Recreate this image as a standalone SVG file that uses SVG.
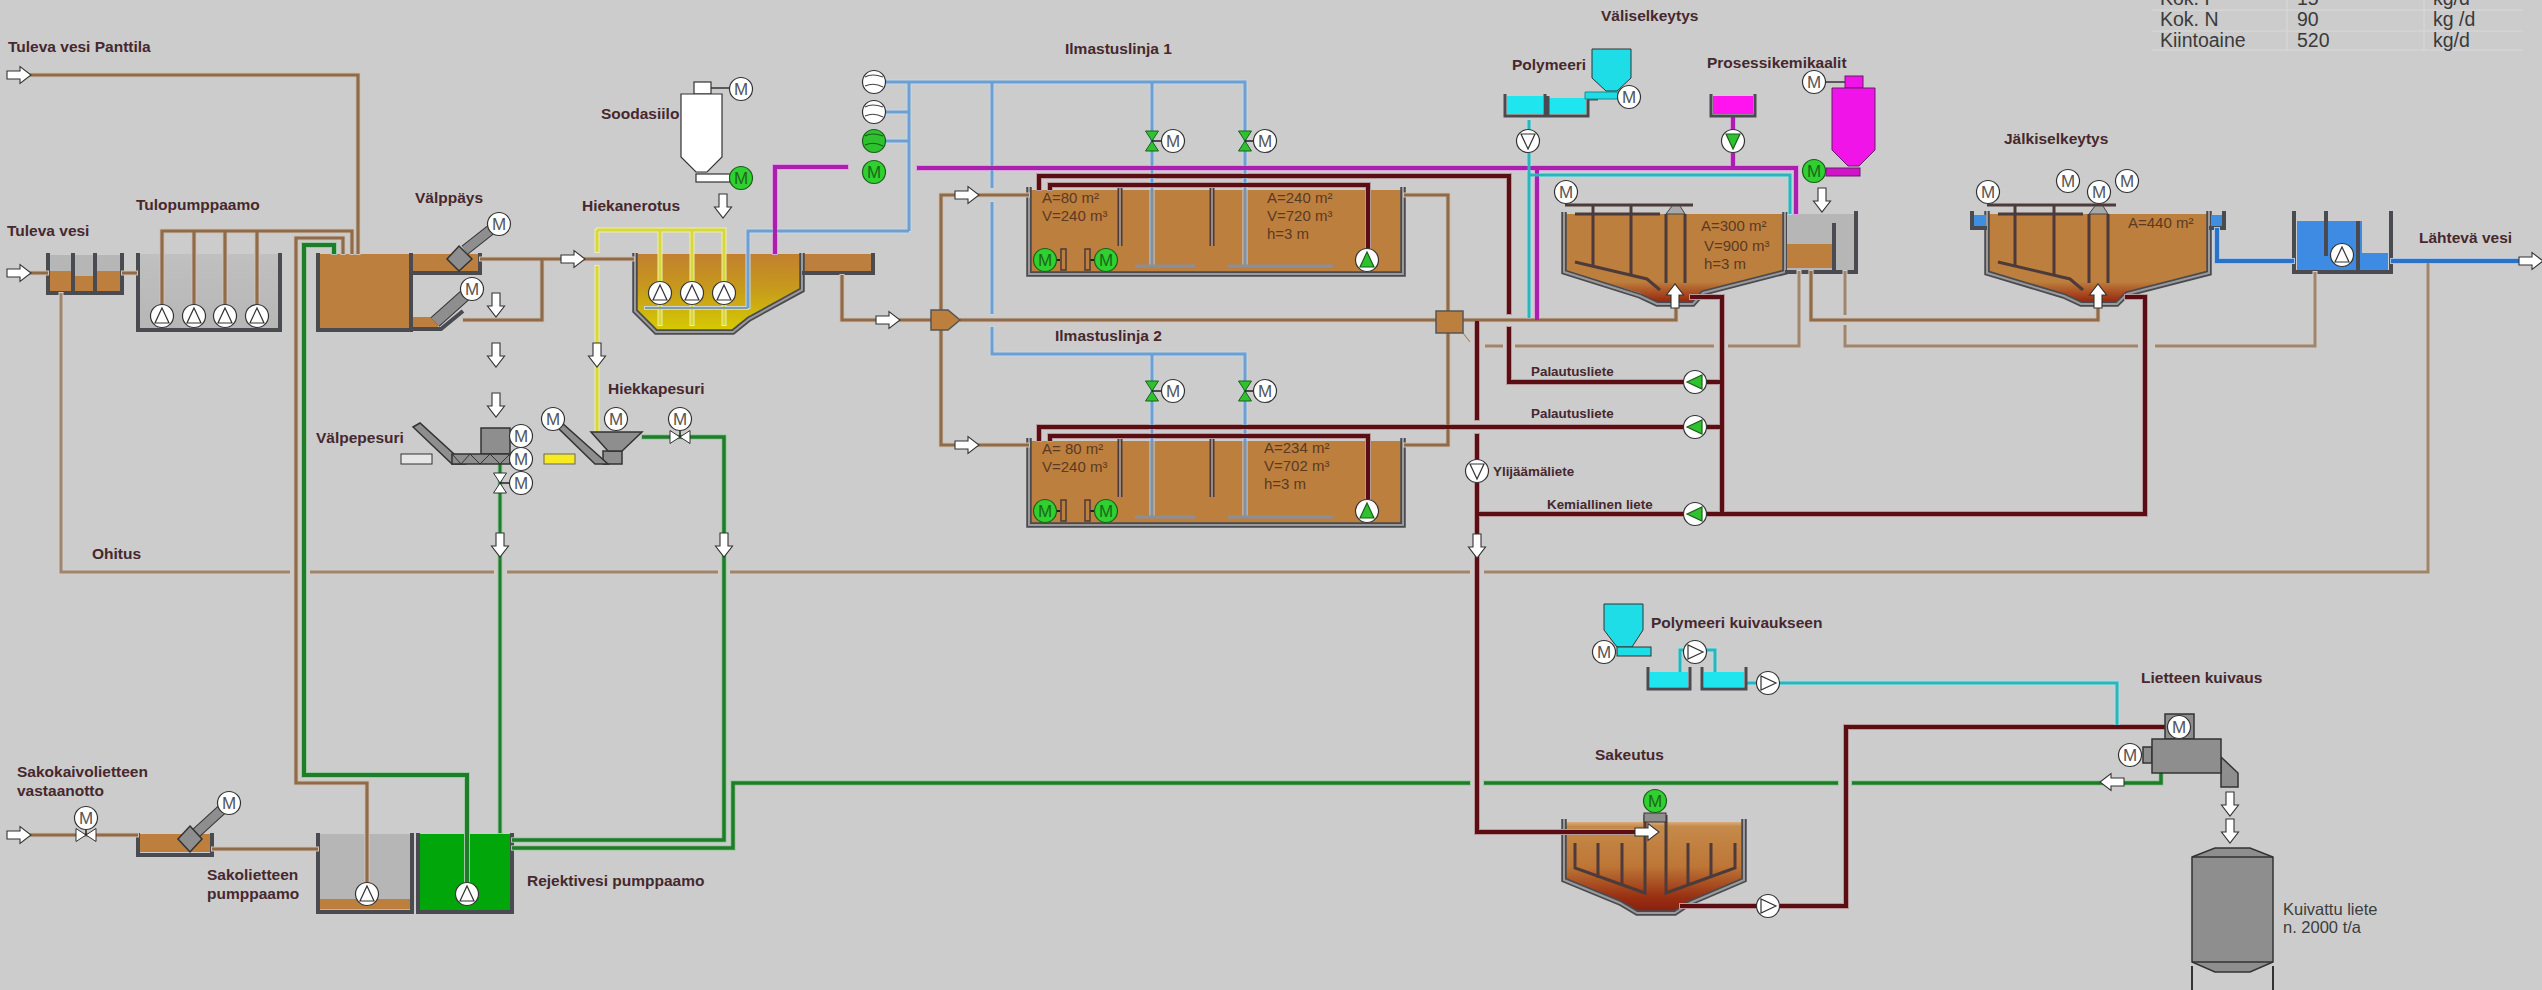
<svg xmlns="http://www.w3.org/2000/svg" width="2542" height="990" viewBox="0 0 2542 990">
<style>
text{font-family:"Liberation Sans",Arial,sans-serif;fill:#46282e}
.l{font-size:15.5px;font-weight:bold}
.s{font-size:13.4px;font-weight:bold}
.d{font-size:15px;fill:#5a3a24}
.n{font-size:16.5px;fill:#3d3d3d}
.t{font-size:19.5px;fill:#3a3a3a}
.grid{stroke:#d9d9d9;stroke-width:1;fill:none}
.wall{fill:none;stroke:#4a4b50;stroke-width:4;stroke-linejoin:miter}
.wt{fill:none;stroke:#4a4b50;stroke-width:5.5;stroke-linejoin:miter}
.wi{fill:none;stroke:#9a9a9a;stroke-width:2;stroke-linejoin:miter}
.rod{fill:none;stroke:#4d3b3b;stroke-width:5}
.roi{fill:none;stroke:#9a8a80;stroke-width:2}
.bro{fill:#bd7f3d}
.gry{fill:#b6b6b6}
.eq{fill:#8e8e8e;stroke:#333;stroke-width:1.5}
.pipe{fill:none;stroke-linejoin:miter}
.brown{stroke:#8f6b4a;stroke-width:3.2}
.tan{stroke:#9d8670;stroke-width:3}
.red{stroke:#5a0d13;stroke-width:4}
.mag{stroke:#ab1fae;stroke-width:4}
.blue{stroke:#6f9fce;stroke-width:3}
.dblue{stroke:#2a72c8;stroke-width:4}
.cyan{stroke:#2cb4bc;stroke-width:3}
.yel{stroke:#d8d83a;stroke-width:3}
.grn{stroke:#1e7d28;stroke-width:4}
.ing{fill:none;stroke:#8b9097;stroke-width:3}
.m circle{fill:#fff;stroke:#333;stroke-width:1.2}
.m text{font-size:17px;fill:#555;text-anchor:middle}
.mg circle{fill:#2fd02f;stroke:#1c5f1c;stroke-width:1.2}
.mg text{font-size:17px;fill:#1a6a1a;text-anchor:middle}
.sw{fill:#fff;stroke:#333;stroke-width:1.2}
.v{fill:#fff;stroke:#333;stroke-width:1}
.vg{fill:#2fc22f;stroke:#1c5f1c;stroke-width:1}
</style>
<defs>
<filter id="halo" filterUnits="userSpaceOnUse" x="0" y="0" width="2542" height="990" color-interpolation-filters="sRGB">
<feMorphology in="SourceGraphic" operator="dilate" radius="1.2" result="d"/>
<feColorMatrix in="d" type="matrix" values=".42 0 0 0 .58 0 .42 0 0 .58 0 0 .42 0 .58 0 0 0 1 0" result="h"/>
<feMerge><feMergeNode in="h"/><feMergeNode in="SourceGraphic"/></feMerge>
</filter>
<linearGradient id="grit" x1="0" y1="0" x2="0" y2="1"><stop offset="0" stop-color="#c2802f"/><stop offset=".45" stop-color="#c79a1c"/><stop offset="1" stop-color="#d6cc00"/></linearGradient>
<linearGradient id="clar" x1="0" y1="0" x2="0" y2="1"><stop offset="0" stop-color="#bd7f3d"/><stop offset=".76" stop-color="#bd7f3d"/><stop offset=".9" stop-color="#a8481f"/><stop offset="1" stop-color="#8e2410"/></linearGradient>
<linearGradient id="thick" x1="0" y1="0" x2="0" y2="1"><stop offset="0" stop-color="#d8ac7c"/><stop offset=".05" stop-color="#c58a4a"/><stop offset=".5" stop-color="#bd7636"/><stop offset=".85" stop-color="#982f12"/><stop offset="1" stop-color="#8a200e"/></linearGradient>
<linearGradient id="fade" x1="0" y1="0" x2="0" y2="1"><stop offset="0" stop-color="#c0c0c0"/><stop offset="1" stop-color="#b6b6b6"/></linearGradient>
<g id="pu"><circle r="11.5" class="sw"/><path d="M0-8 7 7H-7Z" fill="#fff" stroke="#333" stroke-width="1.2"/></g>
<g id="pg"><circle r="11.5" class="sw"/><path d="M0-8 7 7H-7Z" fill="#2fc22f" stroke="#1c5f1c" stroke-width="1.2"/></g>
<path id="ar" d="M0-4H13V-8.5L24 0 13 8.5V4H0Z" fill="#fff" stroke="#333" stroke-width="1.1"/>
<g id="bw"><circle r="11.5" class="sw"/><path d="M-9-5Q-2-9 9-5M-9 4Q0 0 9 5" fill="none" stroke="#444" stroke-width="1.1"/></g>
<g id="bg"><circle r="11.5" fill="#2fc22f" stroke="#1c5f1c" stroke-width="1.2"/><path d="M-9-5Q-2-9 9-5M-9 4Q0 0 9 5" fill="none" stroke="#1c5f1c" stroke-width="1.1"/></g>
<path id="val" d="M-10-6.5 0 0-10 6.5ZM10-6.5 0 0 10 6.5Z" class="v"/>
<path id="vag" d="M-10-6.5 0 0-10 6.5ZM10-6.5 0 0 10 6.5Z" class="vg"/>
</defs>
<rect width="2542" height="990" fill="#cccccc"/>

<g id="table">
<path class="grid" d="M2152 10H2523M2152 31H2523M2152 50H2523M2287 0V50M2424 0V50"/>
<text class="t" x="2160" y="5">Kok. P</text><text class="t" x="2297" y="5">15</text><text class="t" x="2433" y="5">kg/d</text>
<text class="t" x="2160" y="26">Kok. N</text><text class="t" x="2297" y="26">90</text><text class="t" x="2433" y="26">kg /d</text>
<text class="t" x="2160" y="47">Kiintoaine</text><text class="t" x="2297" y="47">520</text><text class="t" x="2433" y="47">kg/d</text>
</g>

<g id="tulokanava">
<rect x="49" y="255" width="72" height="36" class="gry"/>
<path class="bro" d="M50 271H73V276H95V271H120V291H50Z"/>
<path class="wall" d="M48 253V293H122V253M73 253V291M95 253V291"/>
</g>
<g id="tulopumppaamo">
<rect x="138" y="254" width="142" height="75" fill="url(#fade)"/>
<path class="wall" d="M138 253V330H280V253"/>
</g>
<g id="valppays-tank">
<rect x="318" y="254" width="92" height="75" class="bro"/>
<rect x="412" y="254" width="66" height="17" class="bro"/>
<rect x="412" y="317" width="26" height="10" class="bro"/>
<path class="wall" d="M318 253V330H411V253M412 273H480V253M412 329H441L463 311"/>
</g>
<g id="hiekanerotus-tank">
<path d="M636 254H802V290L748 319 732 331H656L636 311Z" fill="url(#grit)"/>
<rect x="802" y="254" width="71" height="17" class="bro"/>
<path class="wt" d="M635 253V311L656 332H733L749 319 802 290V253"/>
<path class="wi" d="M635 253V311L656 332H733L749 319 802 290V253"/>
<path class="wall" d="M802 273H873V253"/>
</g>
<g id="ilmastus-1">
<rect x="1030" y="190" width="372" height="83" class="bro"/>
<path class="wt" d="M1029 187V274H1403V187"/><path class="wi" d="M1029 187V274H1403V187"/>
<path class="rod" d="M1120 188V246M1212 188V246"/><path class="roi" d="M1120 188V246M1212 188V246"/>
<text class="d" x="1042" y="203">A=80 m²</text><text class="d" x="1042" y="221">V=240 m³</text>
<text class="d" x="1267" y="203">A=240 m²</text><text class="d" x="1267" y="221">V=720 m³</text><text class="d" x="1267" y="239">h=3 m</text>
</g>
<g id="ilmastus-2">
<rect x="1030" y="441" width="372" height="83" class="bro"/>
<path class="wt" d="M1029 438V525H1403V438"/><path class="wi" d="M1029 438V525H1403V438"/>
<path class="rod" d="M1120 439V497M1212 439V497"/><path class="roi" d="M1120 439V497M1212 439V497"/>
<text class="d" x="1042" y="454">A= 80 m²</text><text class="d" x="1042" y="472">V=240 m³</text>
<text class="d" x="1264" y="453">A=234 m²</text><text class="d" x="1264" y="471">V=702 m³</text><text class="d" x="1264" y="489">h=3 m</text>
</g>
<g id="valiselkeytys">
<path d="M1565 214H1785V271L1703 292 1693 303H1657L1640 293 1565 271Z" fill="url(#clar)"/>
<path class="wt" d="M1564 212V272L1640 296 1657 304H1693L1703 293 1785 272V212"/><path class="wi" d="M1564 212V272L1640 296 1657 304H1693L1703 293 1785 272V212"/>
<rect x="1787" y="214" width="68" height="56" class="gry"/>
<rect x="1787" y="244" width="47" height="24" class="bro"/>
<path class="wall" d="M1785 272H1856V211M1834 223V270"/>
</g>
<g id="jalkiselkeytys">
<path d="M1989 214H2209V272L2127 294 2117 303H2081L2064 294 1989 272Z" fill="url(#clar)"/>
<path class="wt" d="M1987 211V273L2064 296 2081 304H2117L2127 294 2209 273V211"/><path class="wi" d="M1987 211V273L2064 296 2081 304H2117L2127 294 2209 273V211"/>
<rect x="1973" y="215" width="13" height="11" fill="#3f8fe0"/><rect x="2211" y="215" width="13" height="11" fill="#3f8fe0"/>
<path class="wall" d="M1972 211V228H1987M2224 211V228H2209"/>
</g>
<g id="lahtoallas">
<path fill="#3d8be2" d="M2297 221H2362V253H2388V270H2297Z"/>
<path class="wall" d="M2294 211V272H2391V211M2326 211V256M2358 221V272"/>
</g>
<g id="sakoallas-1">
<rect x="140" y="834" width="70" height="18" class="bro"/>
<path class="wall" d="M138 833V855H212V833"/>
</g>
<g id="sakolietteen-pumppaamo">
<rect x="319" y="834" width="92" height="76" class="gry"/>
<rect x="319" y="899" width="92" height="10" class="bro"/>
<path class="wall" d="M318 833V912H412V833"/>
</g>
<g id="rejektivesi-pumppaamo">
<rect x="419" y="834" width="92" height="76" fill="#00a60a"/>
<path class="wall" d="M418 833V912H512V833"/>
</g>
<g id="sakeutus">
<path d="M1566 822H1742V880L1675 911H1637L1620 901 1566 880Z" fill="url(#thick)"/>
<path class="wt" d="M1564 819V880L1620 903 1637 913H1675L1690 903 1744 880V819"/><path class="wi" d="M1564 819V880L1620 903 1637 913H1675L1690 903 1744 880V819"/>
</g>

<g id="connectors" filter="url(#halo)">
<path class="pipe tan" d="M61 293V572H290M310 572H494M507 572H718M730 572H1470M1484 572H2428V262"/>
<path class="pipe tan" d="M1485 346H1503M1515 346H1714M1728 346H1799V271M1845 271V315M1845 325V346H2138M2155 346H2315V272"/>
<path class="pipe brown" d="M30 75H358V254M30 273H48M122 273H137"/>
<path class="pipe brown" d="M352 254V231H162V316M194 231V316M225 231V316M257 231V316"/>
<path class="pipe brown" d="M343 254V238H296V783H367V893"/>
<path class="pipe grn" d="M334 254V245H304V775H467V893"/>
<path class="pipe brown" d="M480 259H634M542 259V320H463"/>
<path class="pipe brown" d="M842 275V320H931M960 320H1436M1463 320H1676V300"/>
<path class="pipe brown" d="M941 310V195H1029M941 330V445H1029M1404 195H1448V311M1404 445H1448V333"/>
<path class="pipe brown" d="M1811 271V320H2098V300M30 835H138M212 849H318"/>
<path class="pipe tan" style="stroke-width:1.2" d="M1463 333 1470 342"/>
<path class="pipe yel" d="M597 230H724V325M660 230V325M692 230V325M597 230V252M597 266V432"/>
<path class="pipe" stroke="#7f9aa8" stroke-width="2" d="M645 308H748"/>
<path class="pipe blue" d="M748 308V231H909M909 231V82H885M909 82H1245V266M1152 82V266M885 112H909M885 141H909"/>
<path class="pipe blue" d="M992 82V188M992 202V314M992 327V354H1245V516M1152 354V516"/>
<path class="pipe mag" d="M775 254V167H848M917 168H1796V214M1537 168V320M1733 116V168"/>
<path class="pipe cyan" d="M1529 120V318M1529 175H1790V214"/>
<path class="pipe cyan" d="M1680 672V650H1715V672M1746 683H2117V727"/>
<path class="pipe red" d="M1368 260V185H1050V190M1039 190V176H1509V314M1509 327V382H1690"/>
<path class="pipe red" d="M1368 511V436H1050V441M1039 441V427H1690"/>
<path class="pipe red" d="M1477 321V420M1477 434V832H1637M1477 514H1690"/>
<path class="pipe red" d="M1690 297H1722V514M1700 382H1722M1700 427H1722M1700 514H2145V297H2125"/>
<path class="pipe red" d="M1680 906H1846V727H2165"/>
<path class="pipe grn" style="stroke-width:3" d="M500 464V833"/>
<path class="pipe grn" style="stroke-width:3.5" d="M512 840H724V437H642M512 848H733V783H1470M1484 783H1838M1852 783H2161V773"/>
<path class="pipe dblue" d="M2217 228V261H2294M2391 261H2520"/>
</g>

<g id="ilmastimet-1">
<path class="ing" d="M1152 190V266M1245 190V266M1135 266H1195M1228 266H1333"/>
</g>
<g id="ilmastimet-2">
<path class="ing" d="M1152 441V516M1245 441V516M1135 517H1195M1228 517H1333"/>
</g>
<g id="sekoittimet-1">
<path d="M1057 260H1060M1088 260H1094" stroke="#222" stroke-width="2"/>
<rect x="1061" y="249" width="5" height="21" fill="#bd7f3d" stroke="#4a3a3a" stroke-width="1.5"/><rect x="1085" y="249" width="5" height="21" fill="#bd7f3d" stroke="#4a3a3a" stroke-width="1.5"/>
<g class="mg" transform="translate(1045 260)"><circle r="11.5"/><text y="6">M</text></g>
<g class="mg" transform="translate(1106 260)"><circle r="11.5"/><text y="6">M</text></g>
</g>
<g id="sekoittimet-2">
<path d="M1057 511H1060M1088 511H1094" stroke="#222" stroke-width="2"/>
<rect x="1061" y="500" width="5" height="21" fill="#bd7f3d" stroke="#4a3a3a" stroke-width="1.5"/><rect x="1085" y="500" width="5" height="21" fill="#bd7f3d" stroke="#4a3a3a" stroke-width="1.5"/>
<g class="mg" transform="translate(1045 511)"><circle r="11.5"/><text y="6">M</text></g>
<g class="mg" transform="translate(1106 511)"><circle r="11.5"/><text y="6">M</text></g>
</g>

<g id="bridge-1">
<path class="rod" style="stroke-width:3" d="M1565 205H1693M1575 214H1660M1593 205V265M1631 205V276M1666 214V283M1685 214V283"/>
<path fill="#a8a8a8" stroke="#444" d="M1666 214 1672 206H1680L1685 214Z"/>
<path class="rod" style="stroke-width:3" d="M1575 262 1647 279 1660 290"/>
<use href="#ar" transform="translate(1675 308) rotate(-90)"/>
<text class="d" x="1701" y="231">A=300 m²</text><text class="d" x="1704" y="251">V=900 m³</text><text class="d" x="1704" y="269">h=3 m</text>
<g class="m" transform="translate(1566 192)"><circle r="11.5"/><text y="6">M</text></g>
</g>
<g id="bridge-2">
<path class="rod" style="stroke-width:3" d="M1987 205H2116M1998 214H2083M2015 205V265M2054 205V276M2089 214V283M2108 214V283"/>
<path fill="#a8a8a8" stroke="#444" d="M2089 214 2095 206H2103L2108 214Z"/>
<path class="rod" style="stroke-width:3" d="M1998 262 2070 279 2083 290"/>
<use href="#ar" transform="translate(2098 308) rotate(-90)"/>
<text class="d" x="2128" y="228">A=440 m²</text>
<g class="m" transform="translate(1988 192)"><circle r="11.5"/><text y="6">M</text></g>
<g class="m" transform="translate(2068 181)"><circle r="11.5"/><text y="6">M</text></g>
<g class="m" transform="translate(2099 192)"><circle r="11.5"/><text y="6">M</text></g>
<g class="m" transform="translate(2127 181)"><circle r="11.5"/><text y="6">M</text></g>
</g>
<g id="sakeutin-rakenne">
<path class="rod" style="stroke-width:3" d="M1575 843V868L1645 893V815M1598 843V878M1622 843V886M1666 815V893L1735 868V843M1688 843V886M1711 843V878"/>
<rect x="1644" y="813" width="22" height="9" fill="#8e8e8e" stroke="#333"/>
<g class="mg" transform="translate(1655 801)"><circle r="11.5"/><text y="6">M</text></g>
<use href="#ar" transform="translate(1635 832)"/>
</g>

<g id="tulopumput"><use href="#pu" x="162" y="316"/><use href="#pu" x="194" y="316"/><use href="#pu" x="225" y="316"/><use href="#pu" x="257" y="316"/></g>
<g id="valpat">
<path d="M465 250 498 224" stroke="#333" stroke-width="11"/><path d="M465 250 498 224" stroke="#8e8e8e" stroke-width="9"/>
<path class="eq" d="M459 246 472 259 459 271 447 259Z"/>
<path d="M435 322 472 289" stroke="#333" stroke-width="13"/><path d="M435 322 472 289" stroke="#8e8e8e" stroke-width="11"/>
<g class="m" transform="translate(499 224)"><circle r="11.5"/><text y="6">M</text></g>
<g class="m" transform="translate(472 289)"><circle r="11.5"/><text y="6">M</text></g>
</g>
<g id="soodasiilo">
<path d="M711 88H730" stroke="#333" stroke-width="1.5"/>
<rect x="694" y="82" width="17" height="12" class="sw"/>
<path class="sw" d="M681 94H722V157L707 172H696L681 157Z"/>
<rect x="696" y="174" width="34" height="8" class="sw"/>
<g class="m" transform="translate(741 89)"><circle r="11.5"/><text y="6">M</text></g>
<g class="mg" transform="translate(741 178)"><circle r="11.5"/><text y="6">M</text></g>
</g>
<g id="hiekkapumput"><use href="#pu" x="660" y="293"/><use href="#pu" x="692" y="293"/><use href="#pu" x="724" y="293"/></g>
<g id="puhaltimet">
<use href="#bw" x="874" y="82"/><use href="#bw" x="874" y="112"/><use href="#bg" x="874" y="141"/>
<g class="mg" transform="translate(874 172)"><circle r="11.5"/><text y="6">M</text></g>
</g>
<g id="venttiilit-1">
<use href="#vag" transform="translate(1152 141) rotate(90)"/><use href="#vag" transform="translate(1245 141) rotate(90)"/>
<path d="M1152 141H1163M1245 141H1255" stroke="#222" stroke-width="1.5"/>
<g class="m" transform="translate(1173 141)"><circle r="11.5"/><text y="6">M</text></g>
<g class="m" transform="translate(1265 141)"><circle r="11.5"/><text y="6">M</text></g>
</g>
<g id="venttiilit-2">
<use href="#vag" transform="translate(1152 391) rotate(90)"/><use href="#vag" transform="translate(1245 391) rotate(90)"/>
<path d="M1152 391H1163M1245 391H1255" stroke="#222" stroke-width="1.5"/>
<g class="m" transform="translate(1173 391)"><circle r="11.5"/><text y="6">M</text></g>
<g class="m" transform="translate(1265 391)"><circle r="11.5"/><text y="6">M</text></g>
</g>
<g id="kiertopumput"><use href="#pg" x="1367" y="260"/><use href="#pg" x="1367" y="511"/></g>
<g id="jakokaivo"><path class="bro" stroke="#555" stroke-width="1.5" d="M931 310H948L960 320 948 330H931Z"/></g>
<g id="kokoojakaivo"><rect x="1436" y="311" width="27" height="22" class="bro" stroke="#555" stroke-width="1.5"/></g>
<g id="polymeeri">
<path d="M1507 96H1543V114H1507ZM1549 98H1586V114H1549Z" fill="#1fe6ee"/>
<path class="wall" style="stroke-width:3" d="M1505 94V116H1545V94M1548 96V116H1588V99H1598"/>
<path fill="#1fdde6" stroke="#1a8a90" d="M1585 92H1618V99H1585Z"/>
<path fill="#1fdde6" stroke="#333" d="M1592 49H1631V78L1617 91H1606L1592 78Z"/>
<g class="m" transform="translate(1629 97)"><circle r="11.5"/><text y="6">M</text></g>
<g transform="translate(1528 141)"><use href="#pu" transform="rotate(180)"/></g>
</g>
<g id="prosessikemikaalit">
<rect x="1713" y="96" width="40" height="18" fill="#ff14f0"/>
<path class="wall" style="stroke-width:3" d="M1711 94V116H1755V94"/>
<g transform="translate(1733 141)"><use href="#pg" transform="rotate(180)"/></g>
<path d="M1825 82H1845" stroke="#333" stroke-width="1.5"/>
<rect x="1845" y="76" width="18" height="12" fill="#f014e8" stroke="#6a1a6a"/>
<path fill="#f014e8" stroke="#6a1a6a" d="M1832 88H1875V150L1859 166H1848L1832 150Z"/>
<rect x="1826" y="168" width="34" height="8" fill="#d015c8" stroke="#6a1a6a"/>
<g class="m" transform="translate(1814 82)"><circle r="11.5"/><text y="6">M</text></g>
<g class="mg" transform="translate(1814 171)"><circle r="11.5"/><text y="6">M</text></g>
</g>
<g id="valiselk-pumput">
<g transform="translate(1695 382)"><use href="#pg" transform="rotate(-90)"/></g>
<g transform="translate(1695 427)"><use href="#pg" transform="rotate(-90)"/></g>
<g transform="translate(1695 514)"><use href="#pg" transform="rotate(-90)"/></g>
<g transform="translate(1477 471)"><use href="#pu" transform="rotate(180)"/></g>
</g>
<g id="lahtopumppu"><use href="#pu" x="2342" y="255"/></g>
<g id="valpepesuri">
<path class="eq" d="M413 427 420 423 465 464H452Z"/>
<rect x="481" y="428" width="29" height="26" class="eq"/>
<rect x="452" y="454" width="58" height="10" class="eq"/>
<path d="M452 454 461 464 470 454 480 464 490 454 500 464 510 454" fill="none" stroke="#333" stroke-width="1"/>
<rect x="401" y="454" width="31" height="10" fill="#e6e6e6" stroke="#333"/>
<rect x="544" y="454" width="31" height="10" fill="#f8ea20" stroke="#666"/>
<use href="#val" transform="translate(500 483) rotate(90)"/>
<path d="M500 483H510" stroke="#222" stroke-width="1.5"/>
<g class="m" transform="translate(521 436)"><circle r="11.5"/><text y="6">M</text></g>
<g class="m" transform="translate(521 459)"><circle r="11.5"/><text y="6">M</text></g>
<g class="m" transform="translate(521 483)"><circle r="11.5"/><text y="6">M</text></g>
</g>
<g id="hiekkapesuri">
<rect x="603" y="451" width="19" height="13" class="eq"/>
<path class="eq" d="M557 427 562 423 608 464H595Z"/>
<path class="eq" d="M591 432H642L622 451H608Z"/>
<use href="#val" x="680" y="437"/>
<path d="M680 431V437" stroke="#222" stroke-width="1.5"/>
<g class="m" transform="translate(553 419)"><circle r="11.5"/><text y="6">M</text></g>
<g class="m" transform="translate(616 419)"><circle r="11.5"/><text y="6">M</text></g>
<g class="m" transform="translate(680 419)"><circle r="11.5"/><text y="6">M</text></g>
</g>
<g id="sakolaitteet">
<use href="#val" x="86" y="835"/>
<path d="M86 829V835" stroke="#222" stroke-width="1.5"/>
<path d="M195 834 229 803" stroke="#333" stroke-width="11"/><path d="M195 834 229 803" stroke="#8e8e8e" stroke-width="9"/>
<path class="eq" d="M190 826 202 839 190 852 178 839Z"/>
<g class="m" transform="translate(86 818)"><circle r="11.5"/><text y="6">M</text></g>
<g class="m" transform="translate(229 803)"><circle r="11.5"/><text y="6">M</text></g>
<use href="#pu" x="367" y="894"/><use href="#pu" x="467" y="894"/>
</g>
<g id="polymeeri-kuivaukseen">
<path d="M1650 672H1688V687H1650ZM1704 672H1744V687H1704Z" fill="#1fe6ee"/>
<path class="wall" style="stroke-width:3" d="M1648 667V689H1690V667M1702 667V689H1746V667"/>
<path fill="#1fdde6" stroke="#333" d="M1604 604H1643V630L1632 647H1617L1604 630Z"/>
<rect x="1617" y="647" width="34" height="9" fill="#1fdde6" stroke="#333"/>
<g class="m" transform="translate(1604 652)"><circle r="11.5"/><text y="6">M</text></g>
<g transform="translate(1695 652)"><use href="#pu" transform="rotate(90)"/></g>
<g transform="translate(1768 683)"><use href="#pu" transform="rotate(90)"/></g>
<g transform="translate(1768 906)"><use href="#pu" transform="rotate(90)"/></g>
</g>
<g id="lietteen-kuivaus">
<rect x="2165" y="714" width="29" height="25" class="eq"/>
<rect x="2143" y="747" width="9" height="16" class="eq"/>
<path class="eq" d="M2221 757 2238 773V787H2221Z"/>
<rect x="2152" y="739" width="69" height="34" class="eq"/>
<g class="m" transform="translate(2179 727)"><circle r="11.5"/><text y="6">M</text></g>
<g class="m" transform="translate(2130 755)"><circle r="11.5"/><text y="6">M</text></g>
</g>
<g id="lietesiilo">
<path class="eq" d="M2192 857 2215 848H2250L2273 857V962L2250 972H2215L2192 962Z"/>
<path fill="none" stroke="#333" stroke-width="1.5" d="M2192 857H2273M2192 962H2273"/>
<path fill="none" stroke="#333" stroke-width="2" d="M2192 966V990M2273 966V990"/>
<text class="n" x="2283" y="915">Kuivattu liete</text><text class="n" x="2283" y="933">n. 2000 t/a</text>
</g>
<g id="nuolet">
<use href="#ar" x="7" y="75"/><use href="#ar" x="7" y="273"/><use href="#ar" x="7" y="835"/>
<use href="#ar" x="561" y="259"/><use href="#ar" x="876" y="320"/><use href="#ar" x="955" y="195"/><use href="#ar" x="955" y="445"/>
<use href="#ar" transform="translate(2519 261)"/>
<use href="#ar" transform="translate(723 194) rotate(90)"/>
<use href="#ar" transform="translate(496 293) rotate(90)"/>
<use href="#ar" transform="translate(496 343) rotate(90)"/>
<use href="#ar" transform="translate(496 393) rotate(90)"/>
<use href="#ar" transform="translate(597 343) rotate(90)"/>
<use href="#ar" transform="translate(500 533) rotate(90)"/>
<use href="#ar" transform="translate(724 533) rotate(90)"/>
<use href="#ar" transform="translate(1822 188) rotate(90)"/>
<use href="#ar" transform="translate(1477 534) rotate(90)"/>
<use href="#ar" transform="translate(2124 782) rotate(180)"/>
<use href="#ar" transform="translate(2230 792) rotate(90)"/>
<use href="#ar" transform="translate(2230 819) rotate(90)"/>
</g>
<g id="labels">
<text class="l" x="8" y="52">Tuleva vesi Panttila</text>
<text class="l" x="7" y="236">Tuleva vesi</text>
<text class="l" x="136" y="210">Tulopumppaamo</text>
<text class="l" x="415" y="203">Välppäys</text>
<text class="l" x="582" y="211">Hiekanerotus</text>
<text class="l" x="601" y="119">Soodasiilo</text>
<text class="l" x="608" y="394">Hiekkapesuri</text>
<text class="l" x="316" y="443">Välpepesuri</text>
<text class="l" x="92" y="559">Ohitus</text>
<text class="l" x="1065" y="54">Ilmastuslinja 1</text>
<text class="l" x="1055" y="341">Ilmastuslinja 2</text>
<text class="l" x="1601" y="21">Väliselkeytys</text>
<text class="l" x="1512" y="70">Polymeeri</text>
<text class="l" x="1707" y="68">Prosessikemikaalit</text>
<text class="l" x="2004" y="144">Jälkiselkeytys</text>
<text class="l" x="2419" y="243">Lähtevä vesi</text>
<text class="s" x="1531" y="376">Palautusliete</text>
<text class="s" x="1531" y="418">Palautusliete</text>
<text class="s" x="1493" y="476">Ylijäämäliete</text>
<text class="s" x="1547" y="509">Kemiallinen liete</text>
<text class="l" x="1651" y="628">Polymeeri kuivaukseen</text>
<text class="l" x="2141" y="683">Lietteen kuivaus</text>
<text class="l" x="1595" y="760">Sakeutus</text>
<text class="l" x="17" y="777">Sakokaivolietteen</text>
<text class="l" x="17" y="796">vastaanotto</text>
<text class="l" x="207" y="880">Sakolietteen</text>
<text class="l" x="207" y="899">pumppaamo</text>
<text class="l" x="527" y="886">Rejektivesi pumppaamo</text>
</g>
</svg>
